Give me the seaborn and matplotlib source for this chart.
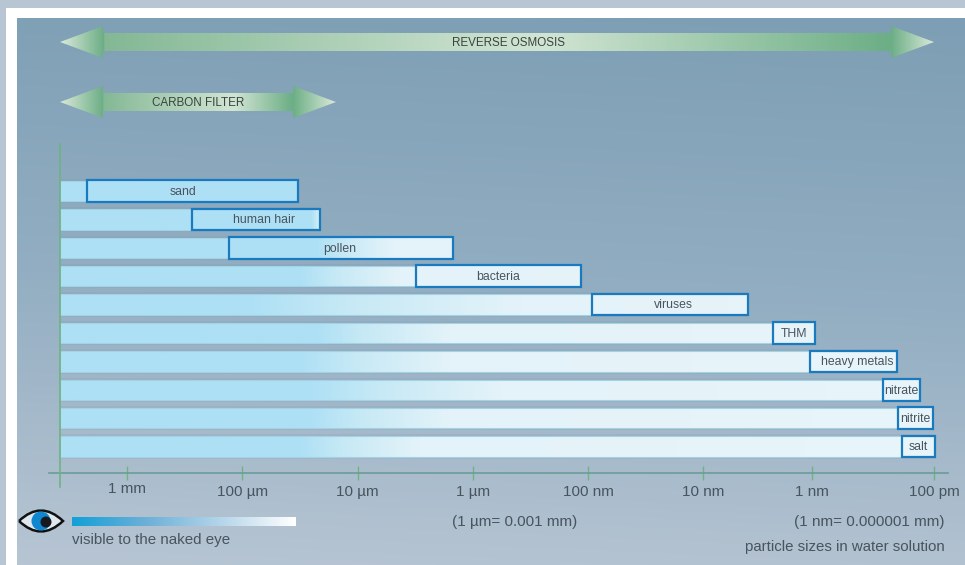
import numpy as np
import pandas as pd
import matplotlib
matplotlib.use("Agg")
import matplotlib.pyplot as plt
import seaborn as sns
from matplotlib.colors import LinearSegmentedColormap
from matplotlib.patches import Circle, PathPatch, Polygon, Rectangle
from matplotlib.path import Path
from matplotlib.transforms import ScaledTranslation

# particle sizes in nm, large end and small end of each box
particles = ["sand", "human hair", "pollen", "bacteria", "viruses", "THM",
             "heavy metals", "nitrate", "nitrite", "salt"]
size_large = [2.22e6, 2.73e5, 1.30e5, 3120, 92.7, 2.49, 1.19, 0.277, 0.206, 0.19]
size_small = [32900, 21200, 1490, 115, 4.11, 1.08, 0.21, 0.132, 0.102, 0.098]

tick_labels = ["1 mm", "100 µm", "10 µm", "1 µm", "100 nm", "10 nm", "1 nm", "100 pm"]
tick_sizes = [1e6, 1e5, 1e4, 1e3, 100, 10, 1.15, 0.1]

axis_start = 3.81e6  # nm, where the vertical axis sits
ro_end = 0.1
carbon_end = 15400

W, H = 965, 565
DEC = 115.3   # px per decade
X0 = 60       # px of the axis start
ROW = 28.4    # px per row
Y0 = 191      # px of the first row


def dec(size):
    return np.log10(axis_start / np.asarray(size, dtype=float))


def row(px):
    return (px - Y0) / ROW


def xd(px):
    return (px - X0) / DEC


sns.set_theme(style="white")
plt.rcParams["font.family"] = ["Liberation Sans", "DejaVu Sans"]
text_col = "#48545e"

fig = plt.figure(figsize=(W / 100, H / 100), dpi=100)

# pixel layer: frame, panel and legend
bg = fig.add_axes([0, 0, 1, 1], zorder=0)
bg.set_xlim(0, W)
bg.set_ylim(H, 0)
bg.axis("off")
bg.add_patch(Rectangle((0, 0), W, H, fc="#b8c6d4", ec="none"))
bg.add_patch(Rectangle((6, 8), W, H, fc="white", ec="none"))
panel = LinearSegmentedColormap.from_list("panel", ["#7d9eb4", "#93aec2", "#b7c5d3"])
yy, xx = np.mgrid[0:1:565j, 0:1:200j]
bg.imshow(0.93 * yy + 0.07 * (1 - xx), extent=(17, W, H, 18), cmap=panel,
          vmin=0, vmax=1, aspect="auto", zorder=1, interpolation="bilinear")

# main layer: x is decades from the axis start, y is the row number
ax = fig.add_axes([0, 0, 1, 1], zorder=1)
ax.patch.set_visible(False)
df = pd.DataFrame({"particle": particles, "start": dec(size_large), "end": dec(size_small)})
rows = np.arange(len(df))
sns.barplot(data=df, x="start", y="particle", orient="h", width=0.72,
            color="#aee0f5", ax=ax)
n_under = len(ax.patches)
ax.barh(rows, df["end"] - df["start"], left=df["start"], height=0.76,
        color="none", edgecolor="#1a7abf", linewidth=1.6, zorder=6)
# soft dark band round the bars
ax.barh(rows, df["end"], height=0.86, color="#6f8ba2", alpha=0.12, linewidth=0, zorder=1)

xlim = (xd(0), xd(W))
ylim = (row(H), row(0))

# each bar fades from blue to pale between these two pixel columns
fade_from = [900, 312, 316, 300, 250, 315, 300, 310, 310, 300]
fade_to = [950, 322, 393, 400, 520, 450, 450, 500, 450, 420]
ramp = np.linspace(0, 1, 875).reshape(1, -1)
grad_end = xd(935)


def row_cmap(i):
    a = min(fade_from[i] / 935, 0.97)
    b = min(max(fade_to[i] / 935, a + 0.01), 0.99)
    return LinearSegmentedColormap.from_list("fade", [
        (0.0, "#aee0f5"), (a, "#aee0f5"), (a + 0.35 * (b - a), "#c6e9f5"),
        (b, "#e4f3f9"), (1.0, "#e8f5fa")], N=512)


for i, p in enumerate(ax.patches[:n_under]):
    p.set_edgecolor("#a3d2e4")
    p.set_linewidth(0.8)
    p.set_zorder(4)
    p.set_facecolor("none")
    im = ax.imshow(ramp, cmap=row_cmap(i), aspect="auto", zorder=3)
    im.set_extent((xd(0), grad_end, p.get_y() + p.get_height(), p.get_y()))
    im.set_clip_path(p)
for i, p in enumerate(ax.patches[n_under:n_under + len(df)]):
    im = ax.imshow(ramp, cmap=row_cmap(i), aspect="auto", zorder=5)
    im.set_extent((xd(0), grad_end, p.get_y() + p.get_height(), p.get_y()))
    im.set_clip_path(p)

# label shifts in decades, the labels are not quite centred in their boxes
nudge = [-0.08, 0.07, -0.01, 0, 0.03, 0, 0.03, 0, 0, 0]
for i, r in df.iterrows():
    ax.text((r["start"] + r["end"]) / 2 + nudge[i], i + 0.03, r["particle"], ha="center",
            va="center", fontsize=8.8, color=text_col, zorder=8)


# filter range arrows
def range_arrow(end_size, y_px, label, label_x, peak):
    x1 = dec(end_size)
    head = xd(103)
    yc = row(y_px)
    shaft, wing = 9 / ROW, 16 / ROW
    verts = [(0, yc), (head, yc - wing), (head, yc - shaft), (x1 - head, yc - shaft),
             (x1 - head, yc - wing), (x1, yc), (x1 - head, yc + wing), (x1 - head, yc + shaft),
             (head, yc + shaft), (head, yc + wing)]
    poly = Polygon(verts, closed=True, fc="none", ec="none", transform=ax.transData)
    ax.add_patch(poly)
    f = head / x1
    cm = LinearSegmentedColormap.from_list("arrow", [
        (0, "#dae9da"), (f, "#6cae85"), (f + 0.001, "#84b895"), (peak, "#d2e5d4"),
        (1 - f, "#6cae85"), (1, "#dae9da")], N=1024)
    im = ax.imshow(ramp, cmap=cm, aspect="auto", zorder=3)
    im.set_extent((0, x1, yc + wing, yc - wing))
    im.set_clip_path(poly)
    ax.text(label_x, yc + 1.5 / ROW, label, ha="center", va="center", fontsize=8.4,
            color="#39443f", zorder=4)


range_arrow(ro_end, 42, "REVERSE OSMOSIS", xd(508), 0.55)
range_arrow(carbon_end, 102, "CARBON FILTER", xd(198), 0.63)

# axes
ax.set_xlim(*xlim)
ax.set_ylim(*ylim)
for s in ["top", "right"]:
    ax.spines[s].set_visible(False)
ax.spines["bottom"].set_position(("data", row(473)))
ax.spines["bottom"].set_bounds(xd(49), xd(948))
ax.spines["bottom"].set_color("#6b9c98")
ax.spines["bottom"].set_linewidth(1.2)
ax.spines["left"].set_position(("data", 0))
ax.spines["left"].set_bounds(row(487), row(144))
ax.spines["left"].set_color("#6db384")
ax.spines["left"].set_linewidth(1.2)
ax.spines["left"].set_zorder(7)
ax.set_xlabel("")
ax.set_ylabel("")
ax.set_yticks([])
ax.set_xticks(dec(tick_sizes), tick_labels)
ax.tick_params(axis="x", bottom=True, direction="inout", length=9.5, width=1, color="#6db384",
               labelsize=11, labelcolor=text_col, pad=4)
first = ax.get_xticklabels()[0]
first.set_transform(first.get_transform() + ScaledTranslation(0, 3 / 100, fig.dpi_scale_trans))

# notes
bg.text(515, 522, "(1 µm= 0.001 mm)", ha="center", va="center", fontsize=11, color=text_col, zorder=3)
bg.text(945, 522, "(1 nm= 0.000001 mm)", ha="right", va="center", fontsize=11, color=text_col, zorder=3)
bg.text(945, 547, "particle sizes in water solution", ha="right", va="center", fontsize=10.8,
        color=text_col, zorder=3)
bg.text(72, 540, "visible to the naked eye", ha="left", va="center", fontsize=10.9,
        color=text_col, zorder=3)

# legend bar and eye
eye_cm = LinearSegmentedColormap.from_list("eye", ["#12a0d6", "#6db0d8", "#b5d5ea", "#ffffff"])
bg.imshow(ramp, extent=(72, 296, 526, 517), cmap=eye_cm, aspect="auto", zorder=3)
lens = PathPatch(Path([(19, 521), (41, 500), (63, 521), (41, 542), (19, 521)],
                      [Path.MOVETO, Path.CURVE3, Path.CURVE3, Path.CURVE3, Path.CURVE3]),
                 fc="#dfe8ee", ec="#111111", lw=1.8, zorder=3)
bg.add_patch(lens)
iris = Circle((41, 521), 9.5, fc="#0f86cf", ec="none", zorder=4)
bg.add_patch(iris)
iris.set_clip_path(lens)
bg.add_patch(Circle((46, 522), 5.5, fc="#161a20", ec="none", zorder=5))

bg.set_xlim(0, W)
bg.set_ylim(H, 0)
fig.savefig("out.png", dpi=100)
